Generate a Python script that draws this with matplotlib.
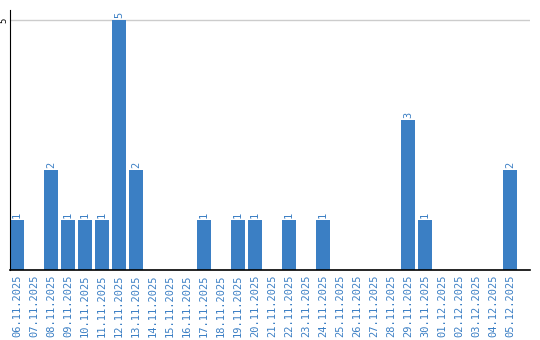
import matplotlib
matplotlib.use('Agg')
import matplotlib.pyplot as plt

# Data
dates = ['06.11.2025', '07.11.2025', '08.11.2025', '09.11.2025', '10.11.2025',
         '11.11.2025', '12.11.2025', '13.11.2025', '14.11.2025', '15.11.2025',
         '16.11.2025', '17.11.2025', '18.11.2025', '19.11.2025', '20.11.2025',
         '21.11.2025', '22.11.2025', '23.11.2025', '24.11.2025', '25.11.2025',
         '26.11.2025', '27.11.2025', '28.11.2025', '29.11.2025', '30.11.2025',
         '01.12.2025', '02.12.2025', '03.12.2025', '04.12.2025', '05.12.2025']
counts = [1, 0, 2, 1, 1, 1, 5, 2, 0, 0,
          0, 1, 0, 1, 1, 0, 1, 0, 1, 0,
          0, 0, 0, 3, 1, 0, 0, 0, 0, 2]

blue = '#3b7fc4'

fig = plt.figure(figsize=(5.4, 3.4), dpi=100)
ax = fig.add_axes([10 / 540, 70 / 340, 520 / 540, 260 / 340])

x = list(range(len(dates)))
ax.bar(x, counts, width=0.82, color=blue, zorder=2)

# value labels above non-empty bars
for xi, c in zip(x, counts):
    if c > 0:
        ax.text(xi, c + 0.04, str(c), rotation=90, ha='center', va='bottom',
                color=blue, fontsize=7.5, family='DejaVu Sans Mono')

ax.set_xlim(-0.41, 30.18)
ax.set_ylim(0, 5.2)

ax.set_xticks(x)
ax.set_xticklabels(dates, rotation=90, color=blue, fontsize=7.5, family='DejaVu Sans Mono')
ax.set_yticks([5])
ax.set_yticklabels(['5'], rotation=90, va='center', fontsize=6.5, family='DejaVu Sans Mono')
ax.tick_params(axis='x', length=0, pad=3)
ax.tick_params(axis='y', length=0, pad=1)

ax.grid(axis='y', color='#cccccc', linewidth=1, zorder=0)
ax.spines['top'].set_visible(False)
ax.spines['right'].set_visible(False)
ax.spines['left'].set_color('black')
ax.spines['bottom'].set_color('black')
ax.spines['bottom'].set_linewidth(1.2)

fig.savefig('out.png', dpi=100)
